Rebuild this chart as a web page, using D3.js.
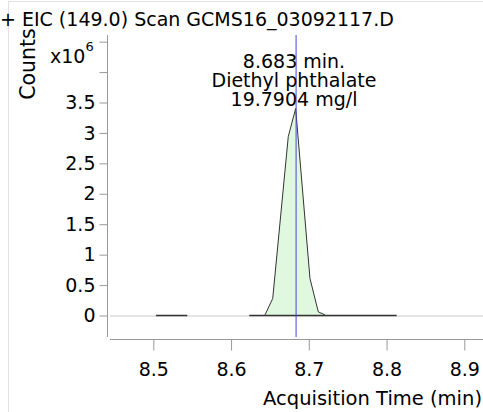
<!DOCTYPE html>
<html>
<head>
<meta charset="utf-8">
<script src="https://cdn.jsdelivr.net/npm/d3@7"></script>
<style>
  body { margin: 0; background: #fff; }
  svg text { font-family: "DejaVu Sans", sans-serif; fill: #000; }
</style>
</head>
<body>
<div id="chart"></div>
<script>
// peak trace (time in min, counts in millions)
const peakTimes = [8.6437, 8.6536, 8.6736, 8.6831, 8.7015, 8.7122, 8.7208];
const peakCounts = [0.01, 0.28, 2.94, 3.40, 0.61, 0.06, 0.01];
// flat baseline pieces of the trace
const baseStarts = [8.5034, 8.6235];
const baseEnds = [8.5437, 8.8130];
const xTicks = [8.5, 8.6, 8.7, 8.8, 8.9];
const yTicks = [0, 0.5, 1, 1.5, 2, 2.5, 3, 3.5, 4, 4.5];
const yLabels = ["0", "0.5", "1", "1.5", "2", "2.5", "3", "3.5", "", ""];
const peakRT = 8.683;
const noteLines = ["8.683 min.", "Diethyl phthalate", "19.7904 mg/l"];

const width = 483, height = 412;

const svg = d3.select("#chart")
    .append("svg")
    .attr("width", width)
    .attr("height", height);

// light frame
svg.append("rect")
    .attr("x", 8.5).attr("y", 1.5)
    .attr("width", width).attr("height", height)
    .attr("fill", "none")
    .attr("stroke", "#e2e2e2");

const x = d3.scaleLinear()
    .domain([8.5, 8.9])
    .range([153.3, 464.3]);

const y = d3.scaleLinear()
    .domain([0, 3.5])
    .range([315.5, 102.5]);

const plotLeft = 110, plotRight = 483, plotTop = 35, plotBottom = 337;

// zero line
svg.append("line")
    .attr("x1", plotLeft).attr("x2", plotRight)
    .attr("y1", y(0) + 0.5).attr("y2", y(0) + 0.5)
    .attr("stroke", "#c8c8c8");

// peak area
const pts = peakTimes.map(function(t, i) { return [t, peakCounts[i]]; });
const area = d3.area()
    .x(function(d) { return x(d[0]); })
    .y0(y(0))
    .y1(function(d) { return y(d[1]); });
svg.append("path")
    .datum(pts)
    .attr("d", area)
    .attr("fill", "#e0f8e0");
svg.append("path")
    .datum(pts)
    .attr("d", d3.line().x(function(d) { return x(d[0]); }).y(function(d) { return y(d[1]); }))
    .attr("fill", "none")
    .attr("stroke", "#333")
    .attr("stroke-width", 1);

// baseline pieces
svg.selectAll(".base")
    .data(baseStarts)
    .enter()
    .append("line")
    .attr("class", "base")
    .attr("x1", function(d) { return x(d); })
    .attr("x2", function(d, i) { return x(baseEnds[i]); })
    .attr("y1", y(0)).attr("y2", y(0))
    .attr("stroke", "#333")
    .attr("stroke-width", 1.5);

// retention time marker
svg.append("line")
    .attr("x1", x(peakRT) + 0.5).attr("x2", x(peakRT) + 0.5)
    .attr("y1", plotTop).attr("y2", plotBottom)
    .attr("stroke", "#4545d8")
    .attr("stroke-width", 1);

// y axis
const yAxis = d3.axisLeft(y)
    .tickValues(yTicks)
    .tickSize(8)
    .tickPadding(4)
    .tickFormat(function(d, i) { return yLabels[i]; });
const gy = svg.append("g")
    .attr("transform", "translate(107.5,0)")
    .call(yAxis);
gy.select(".domain").remove();
gy.append("line")
    .attr("y1", plotTop).attr("y2", plotBottom)
    .attr("stroke", "#999");
gy.selectAll(".tick line").attr("stroke", "#999");
gy.selectAll(".tick text")
    .attr("font-size", 19)
    .attr("font-family", "DejaVu Sans")
    .attr("fill", "#000");

// x axis
const xAxis = d3.axisBottom(x)
    .tickValues(xTicks)
    .tickSize(11)
    .tickPadding(12)
    .tickFormat(d3.format(".1f"));
const gx = svg.append("g")
    .attr("transform", "translate(0,339.5)")
    .call(xAxis);
gx.select(".domain").remove();
gx.append("line")
    .attr("x1", plotLeft).attr("x2", plotRight)
    .attr("stroke", "#999");
gx.selectAll(".tick line").attr("stroke", "#999");
gx.selectAll(".tick text")
    .attr("font-size", 19)
    .attr("font-family", "DejaVu Sans")
    .attr("fill", "#000");

// titles
svg.append("text")
    .attr("x", 0).attr("y", 26)
    .attr("font-size", 19)
    .text("+ EIC (149.0) Scan GCMS16_03092117.D");

svg.append("text")
    .attr("transform", "translate(35,64) rotate(-90)")
    .attr("text-anchor", "middle")
    .attr("font-size", 20.5)
    .text("Counts");

const mult = svg.append("text")
    .attr("x", 50).attr("y", 63)
    .attr("font-size", 19)
    .text("x10");
mult.append("tspan")
    .attr("dy", -12)
    .attr("font-size", 13)
    .text("6");

svg.append("text")
    .attr("x", 482).attr("y", 405)
    .attr("text-anchor", "end")
    .attr("font-size", 19.5)
    .text("Acquisition Time (min)");

svg.selectAll(".note")
    .data(noteLines)
    .enter()
    .append("text")
    .attr("class", "note")
    .attr("x", 294)
    .attr("y", function(d, i) { return 68 + i * 19; })
    .attr("text-anchor", "middle")
    .attr("font-size", 19)
    .text(function(d) { return d; });
</script>
</body>
</html>
